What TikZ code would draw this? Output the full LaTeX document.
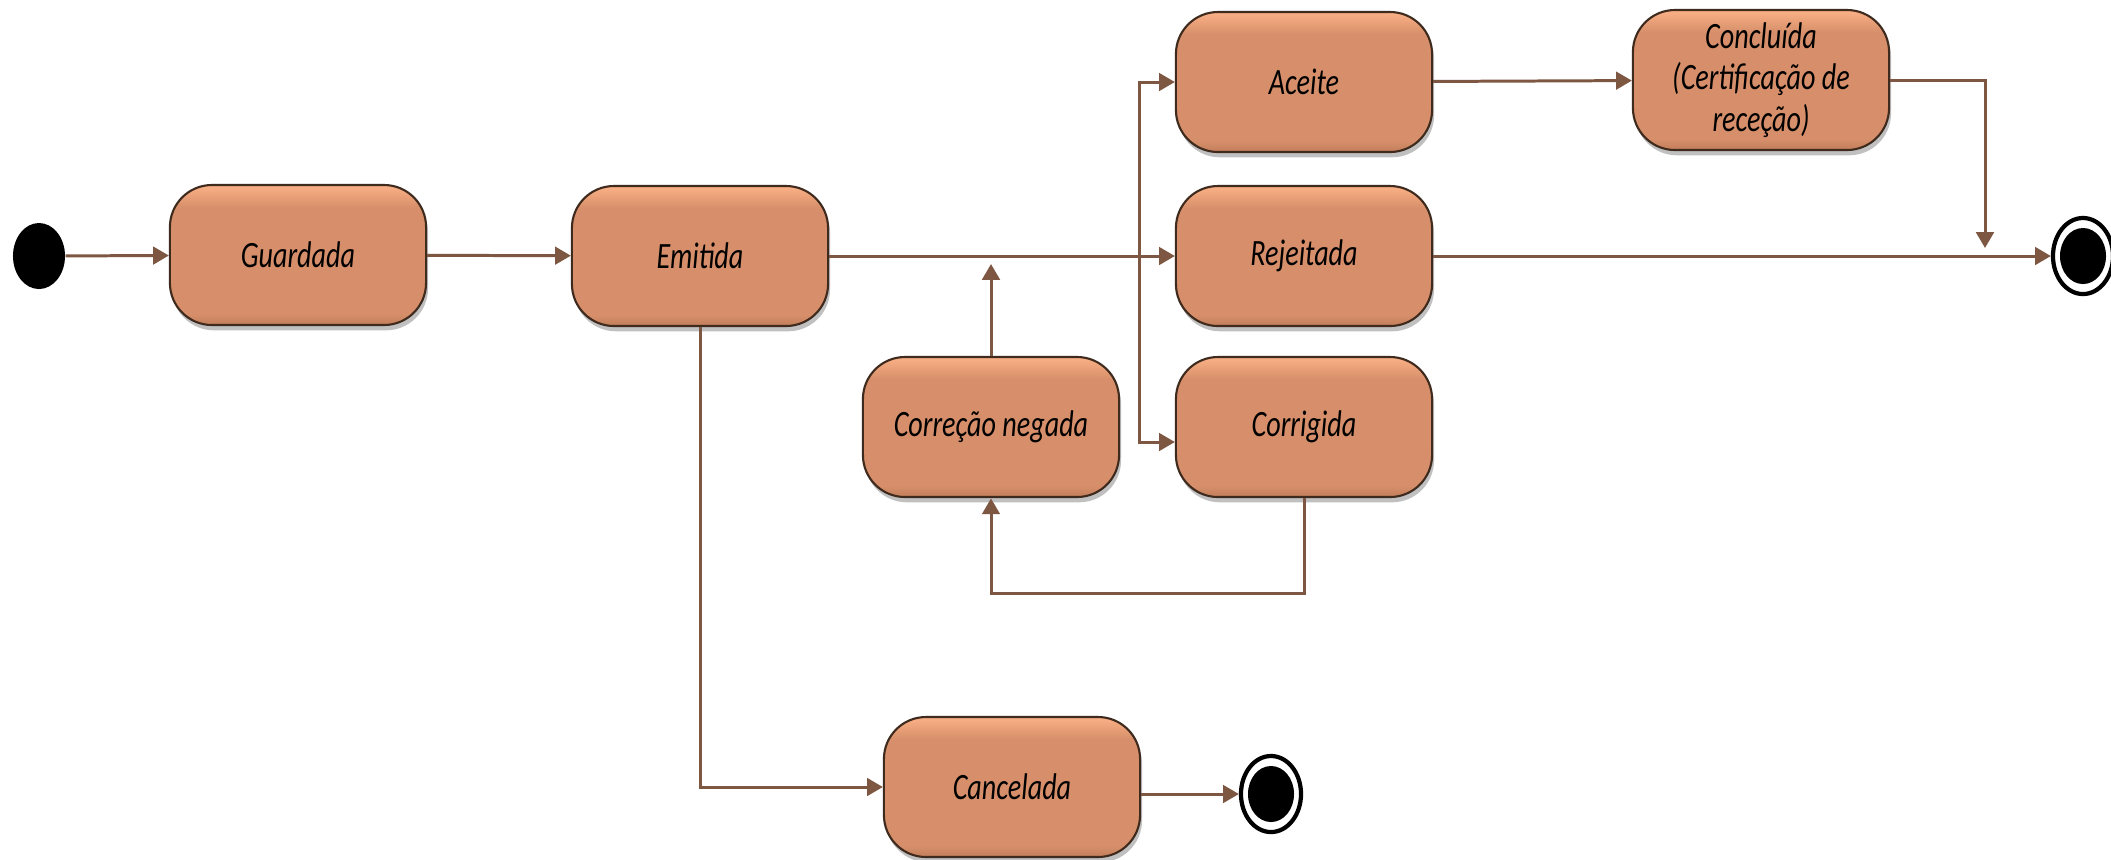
\documentclass[tikz,border=0pt]{standalone}
\usepackage{fontspec}
\setmainfont{Carlito}
\usetikzlibrary{arrows.meta,shapes.geometric,shadows,calc}
\definecolor{boxfill}{HTML}{D68F6A}
\definecolor{boxtop}{HTML}{F7AD83}
\definecolor{boxbot}{HTML}{C27D5A}
\definecolor{boxedge}{HTML}{3F2A1E}
\definecolor{conn}{HTML}{7E5743}
\pgfdeclareverticalshading{statefill}{100bp}{color(0bp)=(boxbot); color(25bp)=(boxbot); color(29bp)=(boxfill); color(67bp)=(boxfill); color(74bp)=(boxtop); color(100bp)=(boxtop)}
\begin{document}
\begin{tikzpicture}[x=0.01cm,y=-0.01cm,
  state/.style={draw=boxedge, line width=0.6pt, rounded corners=0.42cm,
    yscale=1.32, transform shape,
    minimum width=2.56cm, minimum height=1.06cm,
    shading=statefill,
    drop shadow={shadow xshift=0.02cm, shadow yshift=-0.053cm, opacity=0.35, fill=black!70},
    align=center, font=\fontsize{8}{8.9}\selectfont\itshape, inner sep=0pt},
  initial/.style={ellipse, fill=black, minimum width=0.52cm, minimum height=0.66cm, inner sep=0pt},
  finalring/.style={ellipse, draw=black, line width=1.2pt, fill=white, minimum width=0.60cm, minimum height=0.76cm, inner sep=0pt},
  finaldot/.style={ellipse, fill=black, minimum width=0.46cm, minimum height=0.56cm, inner sep=0pt},
  conn/.style={draw=conn, line width=0.85pt, -{Triangle[length=4.5pt,width=5pt]}}
]
\useasboundingbox (0,0) rectangle (2111,859);
\fill[white] (0,0) rectangle (2111,859);

\coordinate (pGuard) at (298,255);
\coordinate (pEmit) at (700,256);
\coordinate (pAceite) at (1304,82);
\coordinate (pRej) at (1304,256);
\coordinate (pCorr) at (1304,427);
\coordinate (pCn) at (991,427);
\coordinate (pConcl) at (1761,80);
\coordinate (pCanc) at (1012,787);

\node[initial] (init) at (39,256) {};
\node[state] (guard) at (pGuard) {Guardada};
\node[state] (emit) at (pEmit) {Emitida};
\node[state] (aceite) at (pAceite) {Aceite};
\node[state] (rej) at (pRej) {Rejeitada};
\node[state] (corr) at (pCorr) {Corrigida};
\node[state] (cn) at (pCn) {Correção negada};
\node[state] (concl) at (pConcl) {Concluída\\(Certificação de\\receção)};
\node[state] (canc) at (pCanc) {Cancelada};

\node[finalring] (fin1) at (2083,256) {};
\node[finaldot] (fin1dot) at (fin1) {};
\node[finalring] (fin2) at (1271,794) {};
\node[finaldot] (fin2dot) at (fin2) {};

\coordinate (fork) at (1139,256);
\coordinate (cnTip) at (991,264);
\coordinate (cdTip) at (1985,248);

\draw[conn] (init) -- (guard);
\draw[conn] (guard) -- (emit);
\draw[conn] (emit) -- (rej);
\draw[conn] (fork) |- (aceite.west);
\draw[conn] (fork) |- ($(corr.west)+(0,15)$);
\draw[conn] (cn.north) -- (cnTip);
\draw[conn] (corr.south) -- ++(0,95) -| (cn.south);
\draw[conn] (aceite) -- (concl);
\draw[conn] (concl.east) -| (cdTip);
\draw[conn] (rej) -- (fin1);
\draw[conn] (emit.south) |- (canc.west);
\draw[conn] (canc.east |- fin2.west) -- (fin2.west);
\end{tikzpicture}
\end{document}
